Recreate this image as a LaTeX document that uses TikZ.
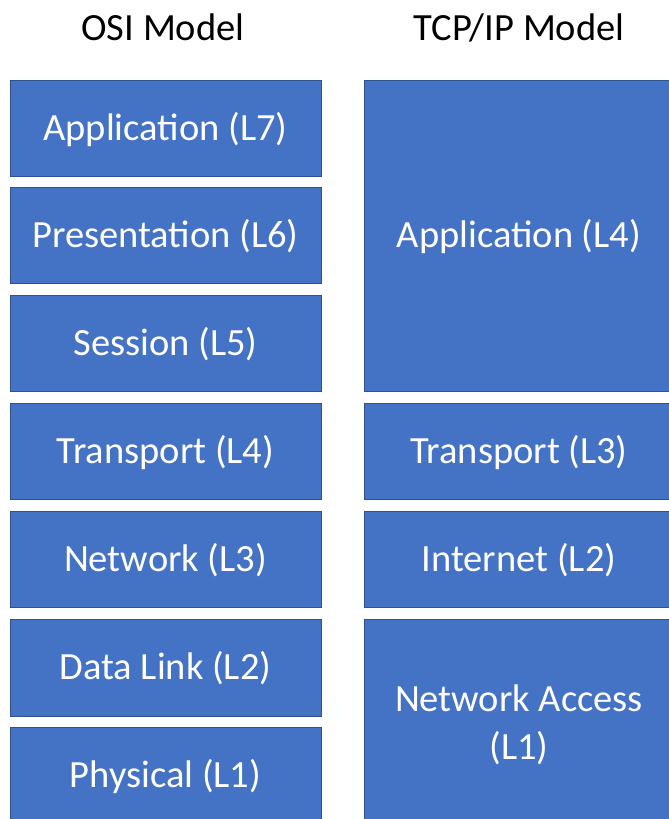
\documentclass[tikz,border=0pt]{standalone}
\usepackage{fontspec}
\setmainfont{Carlito}
\definecolor{boxfill}{HTML}{4472C4}
\definecolor{boxline}{HTML}{2F528F}
\begin{document}
\begin{tikzpicture}[x=1pt,y=-1pt,
  layer/.style={draw=boxline,fill=boxfill,line width=0.9pt,text=white,
    inner sep=0pt,outer sep=0pt,font=\fontsize{38.5}{48}\selectfont},
  oneline/.style={text height=24.8pt,text depth=0pt},
  osi/.style={layer,oneline,minimum width=311pt,minimum height=96pt},
  title/.style={font=\fontsize{38.5}{48}\selectfont,text=black,anchor=base,inner sep=0pt}]
\useasboundingbox (0,0) rectangle (669,819);
\clip (0,0) rectangle (669,819);
\node[title] (t1) at (163,40) {OSI Model};
\node[title] (t2) at (519,40) {TCP/IP Model};
% OSI
\node[osi] (l7) at (165.5,128) {Application (L7)};
\node[osi] (l6) at (165.5,235) {Presentation (L6)};
\node[osi] (l5) at (165.5,343) {Session (L5)};
\node[osi] (l4) at (165.5,451) {Transport (L4)};
\node[osi] (l3) at (165.5,559) {Network (L3)};
\node[osi,minimum height=97pt] (l2) at (165.5,667.5) {Data Link (L2)};
\node[osi] (l1) at (165.5,775) {Physical (L1)};
% TCP/IP
\node[layer,oneline,minimum width=310pt,minimum height=311pt] (a4) at (519,235.5) {Application (L4)};
\node[layer,oneline,minimum width=310pt,minimum height=96pt] (a3) at (519,451) {Transport (L3)};
\node[layer,oneline,minimum width=310pt,minimum height=96pt] (a2) at (519,559) {Internet (L2)};
\node[layer,align=center,minimum width=310pt,minimum height=211pt] (a1) at (519,724.5) {Network Access\\(L1)};
\end{tikzpicture}
\end{document}
